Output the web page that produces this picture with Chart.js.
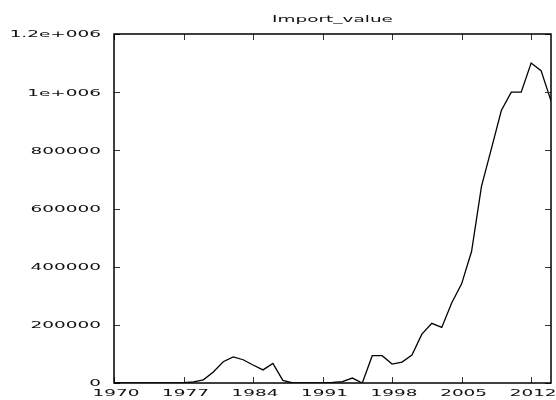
<!DOCTYPE html>
<html>
<head>
<meta charset="utf-8">
<script src="https://cdn.jsdelivr.net/npm/chart.js@4"></script>
<style>
  html, body { margin: 0; padding: 0; background: #fff; }
  #wrap { width: 556px; height: 400px; }
</style>
</head>
<body>
<div id="wrap"><canvas id="c" width="556" height="400"></canvas></div>
<script>
// Series: yearly import value
const chartTitle = 'Import_value';
const years = [
  1970, 1971, 1972, 1973, 1974, 1975, 1976, 1977, 1978, 1979,
  1980, 1981, 1982, 1983, 1984, 1985, 1986, 1987, 1988, 1989,
  1990, 1991, 1992, 1993, 1994, 1995, 1996, 1997, 1998, 1999,
  2000, 2001, 2002, 2003, 2004, 2005, 2006, 2007, 2008, 2009,
  2010, 2011, 2012, 2013, 2014
];
const importValues = [
  0, 0, 0, 0, 0, 0, 0, 1000, 4000, 11000,
  38000, 73000, 90000, 80000, 62000, 45000, 67000, 9000, 0, 0,
  0, 0, 2000, 5000, 17000, 0, 94000, 94000, 65000, 72000,
  96000, 168000, 205000, 191000, 275000, 341000, 452000, 676000, 806000, 937000,
  1000000, 1000000, 1100000, 1074000, 970000
];
const xTickYears = [1970, 1977, 1984, 1991, 1998, 2005, 2012];
const yTickValues = [0, 200000, 400000, 600000, 800000, 1000000, 1200000];
const yTickLabels = ['0', '200000', '400000', '600000', '800000', '1e+006', '1.2e+006'];

// Wide, horizontally stretched label lettering
const FONT = '9px "DejaVu Sans"';
const STRETCH = 2.05;

function wideText(ctx, text, x, y, align) {
  ctx.save();
  ctx.translate(x, y);
  ctx.scale(STRETCH, 1);
  ctx.font = FONT;
  ctx.fillStyle = '#111';
  ctx.textAlign = align;
  ctx.textBaseline = 'middle';
  ctx.fillText(text, 0, 0);
  ctx.restore();
}

// Frame, inward tick marks, tick labels and title
const framePlugin = {
  id: 'frameAndLabels',
  afterDraw(chart) {
    const { ctx, chartArea: a, scales } = chart;
    const xs = scales.x, ys = scales.y;
    const TL = 6;

    ctx.save();
    ctx.strokeStyle = '#333';
    ctx.lineWidth = 1;
    ctx.beginPath();
    xTickYears.forEach(v => {
      const px = Math.round(xs.getPixelForValue(v)) + 0.5;
      ctx.moveTo(px, a.bottom); ctx.lineTo(px, a.bottom - TL);
      ctx.moveTo(px, a.top); ctx.lineTo(px, a.top + TL);
    });
    yTickValues.forEach(v => {
      const py = Math.round(ys.getPixelForValue(v)) + 0.5;
      ctx.moveTo(a.left, py); ctx.lineTo(a.left + TL, py);
      ctx.moveTo(a.right, py); ctx.lineTo(a.right - TL, py);
    });
    ctx.stroke();

    ctx.strokeStyle = '#000';
    ctx.lineWidth = 1.5;
    ctx.strokeRect(a.left, a.top, a.right - a.left, a.bottom - a.top);
    ctx.restore();

    yTickValues.forEach((v, i) => {
      wideText(ctx, yTickLabels[i], a.left - 13, ys.getPixelForValue(v) + 1, 'right');
    });
    xTickYears.forEach(v => {
      wideText(ctx, String(v), xs.getPixelForValue(v) + 2, a.bottom + 11, 'center');
    });
    wideText(ctx, chartTitle, (a.left + a.right) / 2, 19.5, 'center');
  }
};

new Chart(document.getElementById('c'), {
  type: 'line',
  data: {
    datasets: [{
      label: chartTitle,
      data: years.map((y, i) => ({ x: y, y: importValues[i] })),
      borderColor: '#000',
      borderWidth: 1.3,
      pointRadius: 0,
      tension: 0,
      fill: false
    }]
  },
  options: {
    responsive: false,
    animation: false,
    layout: { padding: { left: 0, right: 5, top: 34, bottom: 0 } },
    plugins: {
      legend: { display: false },
      title: { display: false },
      tooltip: { enabled: false }
    },
    scales: {
      x: {
        type: 'linear',
        min: 1970,
        max: 2014,
        afterBuildTicks: s => { s.ticks = xTickYears.map(v => ({ value: v })); },
        afterFit: s => { s.height = 17; },
        ticks: { display: false },
        grid: { display: false },
        border: { display: false }
      },
      y: {
        type: 'linear',
        min: 0,
        max: 1200000,
        afterBuildTicks: s => { s.ticks = yTickValues.map(v => ({ value: v })); },
        afterFit: s => { s.width = 114; },
        ticks: { display: false },
        grid: { display: false },
        border: { display: false }
      }
    }
  },
  plugins: [framePlugin]
});
</script>
</body>
</html>
